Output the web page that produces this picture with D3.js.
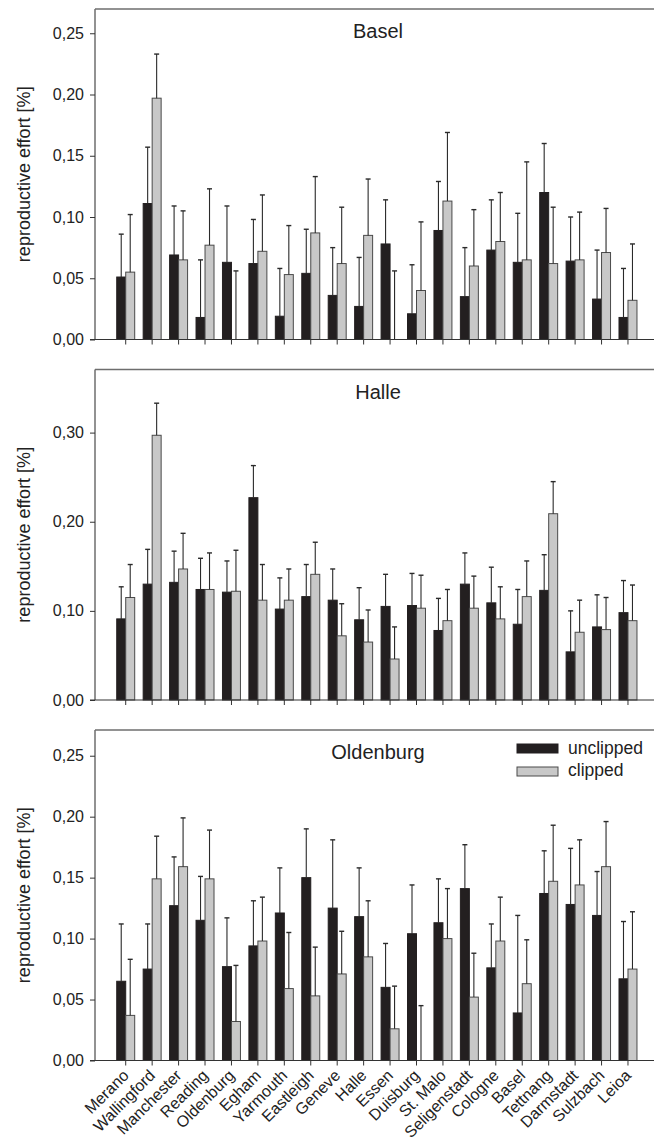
<!DOCTYPE html>
<html>
<head>
<meta charset="utf-8">
<script src="https://cdn.jsdelivr.net/npm/d3@7"></script>
<style>
body { margin: 0; background: #fff; }
svg { display: block; font-family: "Liberation Sans", Arial, sans-serif; }
</style>
</head>
<body>
<svg width="654" height="1139"></svg>
<script>
// sites along the x axis
var sites = ["Merano", "Wallingford", "Manchester", "Reading", "Oldenburg", "Egham",
             "Yarmouth", "Eastleigh", "Geneve", "Halle", "Essen", "Duisburg", "St. Malo",
             "Seligenstadt", "Cologne", "Basel", "Tettnang", "Darmstadt", "Sulzbach", "Leioa"];
var treatments = ["unclipped", "clipped"];

// Basel garden
var basel_unclipped    = [0.051, 0.111, 0.069, 0.018, 0.063, 0.062, 0.019, 0.054, 0.036, 0.027,
                          0.078, 0.021, 0.089, 0.035, 0.073, 0.063, 0.120, 0.064, 0.033, 0.018];
var basel_unclipped_se = [0.035, 0.046, 0.040, 0.047, 0.046, 0.036, 0.039, 0.036, 0.039, 0.040,
                          0.036, 0.040, 0.040, 0.040, 0.041, 0.040, 0.040, 0.036, 0.040, 0.040];
var basel_clipped      = [0.055, 0.197, 0.065, 0.077, 0.000, 0.072, 0.053, 0.087, 0.062, 0.085,
                          0.000, 0.040, 0.113, 0.060, 0.080, 0.065, 0.062, 0.065, 0.071, 0.032];
var basel_clipped_se   = [0.047, 0.036, 0.040, 0.046, 0.056, 0.046, 0.040, 0.046, 0.046, 0.046,
                          0.056, 0.056, 0.056, 0.046, 0.040, 0.080, 0.046, 0.039, 0.036, 0.046];

// Halle garden
var halle_unclipped    = [0.091, 0.130, 0.132, 0.124, 0.121, 0.227, 0.102, 0.116, 0.112, 0.090,
                          0.105, 0.106, 0.078, 0.130, 0.109, 0.085, 0.123, 0.054, 0.082, 0.098];
var halle_unclipped_se = [0.036, 0.039, 0.035, 0.035, 0.035, 0.036, 0.035, 0.036, 0.035, 0.036,
                          0.036, 0.036, 0.036, 0.035, 0.040, 0.039, 0.040, 0.046, 0.036, 0.036];
var halle_clipped      = [0.115, 0.297, 0.147, 0.124, 0.122, 0.112, 0.112, 0.141, 0.072, 0.065,
                          0.046, 0.103, 0.089, 0.103, 0.091, 0.116, 0.209, 0.076, 0.079, 0.089];
var halle_clipped_se   = [0.037, 0.036, 0.040, 0.041, 0.046, 0.040, 0.035, 0.036, 0.036, 0.036,
                          0.036, 0.037, 0.035, 0.036, 0.036, 0.040, 0.036, 0.036, 0.036, 0.040];

// Oldenburg garden
var oldenburg_unclipped    = [0.065, 0.075, 0.127, 0.115, 0.077, 0.094, 0.121, 0.150, 0.125, 0.118,
                              0.060, 0.104, 0.113, 0.141, 0.076, 0.039, 0.137, 0.128, 0.119, 0.067];
var oldenburg_unclipped_se = [0.047, 0.037, 0.040, 0.036, 0.040, 0.037, 0.037, 0.040, 0.056, 0.040,
                              0.036, 0.040, 0.036, 0.036, 0.036, 0.080, 0.035, 0.046, 0.036, 0.047];
var oldenburg_clipped      = [0.037, 0.149, 0.159, 0.149, 0.032, 0.098, 0.059, 0.053, 0.071, 0.085,
                              0.026, 0.000, 0.100, 0.052, 0.098, 0.063, 0.147, 0.144, 0.159, 0.075];
var oldenburg_clipped_se   = [0.046, 0.035, 0.040, 0.040, 0.046, 0.036, 0.046, 0.040, 0.035, 0.046,
                              0.035, 0.045, 0.041, 0.036, 0.036, 0.036, 0.046, 0.037, 0.037, 0.047];

var ticks_a = [0, 0.05, 0.10, 0.15, 0.20, 0.25];
var ticks_b = [0, 0.10, 0.20, 0.30];

var svg = d3.select("svg");

var panels = [
    {name: "Basel", top: 9, ymax: 0.2698, ticks: ticks_a,
     u: basel_unclipped, use: basel_unclipped_se, c: basel_clipped, cse: basel_clipped_se},
    {name: "Halle", top: 369.5, ymax: 0.3708, ticks: ticks_b,
     u: halle_unclipped, use: halle_unclipped_se, c: halle_clipped, cse: halle_clipped_se},
    {name: "Oldenburg", top: 730, ymax: 0.2711, ticks: ticks_a,
     u: oldenburg_unclipped, use: oldenburg_unclipped_se, c: oldenburg_clipped, cse: oldenburg_clipped_se}
];
var panelH = 330.5;
var left = 95, right = 654;

// german style decimals
var locale = d3.formatLocale({decimal: ",", thousands: ".", grouping: [3], currency: ["", ""]});
var fmt = locale.format(".2f");

var x = d3.scaleBand()
    .domain(sites)
    .range([112.5, 641.2])
    .paddingInner(0.32)
    .paddingOuter(0.16);

var xs = d3.scaleBand()
    .domain(treatments)
    .range([0, x.bandwidth()]);

var fills = {unclipped: "#231f20", clipped: "#c8c8c8"};
var strokes = {unclipped: "#231f20", clipped: "#4a4a4a"};

panels.forEach(function(p, pi) {
    var bottom = p.top + panelH;
    var y = d3.scaleLinear().domain([0, p.ymax]).range([bottom, p.top]);
    var g = svg.append("g");

    // rows: one per site and treatment
    var rows = [];
    sites.forEach(function(s, i) {
        rows.push({site: s, t: "unclipped", v: p.u[i], se: p.use[i]});
        rows.push({site: s, t: "clipped", v: p.c[i], se: p.cse[i]});
    });

    // frame
    g.append("line").attr("x1", left).attr("x2", right).attr("y1", p.top).attr("y2", p.top)
        .attr("stroke", "#6e6e6e").attr("stroke-width", 1.5);
    g.append("line").attr("x1", left).attr("x2", left).attr("y1", p.top).attr("y2", bottom)
        .attr("stroke", "#6e6e6e").attr("stroke-width", 1.5);

    // bars
    g.selectAll("rect.bar")
      .data(rows)
      .enter().append("rect")
        .attr("class", "bar")
        .attr("x", function(d) { return x(d.site) + xs(d.t); })
        .attr("width", xs.bandwidth())
        .attr("y", function(d) { return y(d.v); })
        .attr("height", function(d) { return bottom - y(d.v); })
        .attr("fill", function(d) { return fills[d.t]; })
        .attr("stroke", function(d) { return strokes[d.t]; })
        .attr("stroke-width", 1);

    // error bars (upper only)
    var eb = g.selectAll("g.err")
      .data(rows)
      .enter().append("g")
        .attr("class", "err")
        .attr("transform", function(d) {
            return "translate(" + (x(d.site) + xs(d.t) + xs.bandwidth() / 2) + ",0)";
        });
    eb.append("line")
        .attr("y1", function(d) { return y(d.v); })
        .attr("y2", function(d) { return y(d.v + d.se); })
        .attr("stroke", "#2a2a2a").attr("stroke-width", 1.1);
    eb.append("line")
        .attr("x1", -2.5).attr("x2", 2.5)
        .attr("y1", function(d) { return y(d.v + d.se); })
        .attr("y2", function(d) { return y(d.v + d.se); })
        .attr("stroke", "#2a2a2a").attr("stroke-width", 1.4);

    // y axis
    var ya = g.append("g")
        .attr("transform", "translate(" + left + ",0)")
        .call(d3.axisLeft(y).tickValues(p.ticks).tickSize(5).tickPadding(6).tickFormat(fmt));
    ya.select(".domain").remove();
    ya.selectAll("line").attr("stroke", "#333");
    ya.selectAll("text").attr("font-size", 16).attr("fill", "#222")
        .attr("font-family", "Liberation Sans, Arial, sans-serif");

    // x axis
    var xa = g.append("g")
        .attr("transform", "translate(0," + bottom + ")")
        .call(d3.axisBottom(x).tickSize(5).tickFormat(""));
    xa.select(".domain").remove();
    xa.selectAll("line").attr("stroke", "#333");
    g.append("line").attr("x1", left - 5).attr("x2", right).attr("y1", bottom).attr("y2", bottom)
        .attr("stroke", "#333").attr("stroke-width", 1.2);

    // y label
    g.append("text")
        .attr("transform", "translate(30," + ((p.top + bottom) / 2) + ") rotate(-90)")
        .attr("text-anchor", "middle")
        .attr("font-size", 18)
        .attr("fill", "#222")
        .text("reproductive effort [%]");

    // panel title
    g.append("text")
        .attr("x", 378)
        .attr("y", p.top + 29)
        .attr("text-anchor", "middle")
        .attr("font-size", 20)
        .attr("fill", "#222")
        .text(p.name);

    // site labels only under last panel
    if (pi === panels.length - 1) {
        g.selectAll("text.site")
          .data(sites)
          .enter().append("text")
            .attr("class", "site")
            .attr("transform", function(d) {
                return "translate(" + (x(d) + x.bandwidth() / 2 + 4) + "," + (bottom + 16) + ") rotate(-45)";
            })
            .attr("text-anchor", "end")
            .attr("font-size", 16)
            .attr("fill", "#222")
            .text(function(d) { return d; });

        // legend
        var lg = g.append("g");
        treatments.forEach(function(t, i) {
            lg.append("rect")
                .attr("x", 517).attr("y", 744 + i * 23)
                .attr("width", 41).attr("height", 9)
                .attr("fill", fills[t]).attr("stroke", strokes[t]);
            lg.append("text")
                .attr("x", 568).attr("y", 754 + i * 22)
                .attr("font-size", 17.5)
                .attr("fill", "#222")
                .text(t);
        });
    }
});
</script>
</body>
</html>
